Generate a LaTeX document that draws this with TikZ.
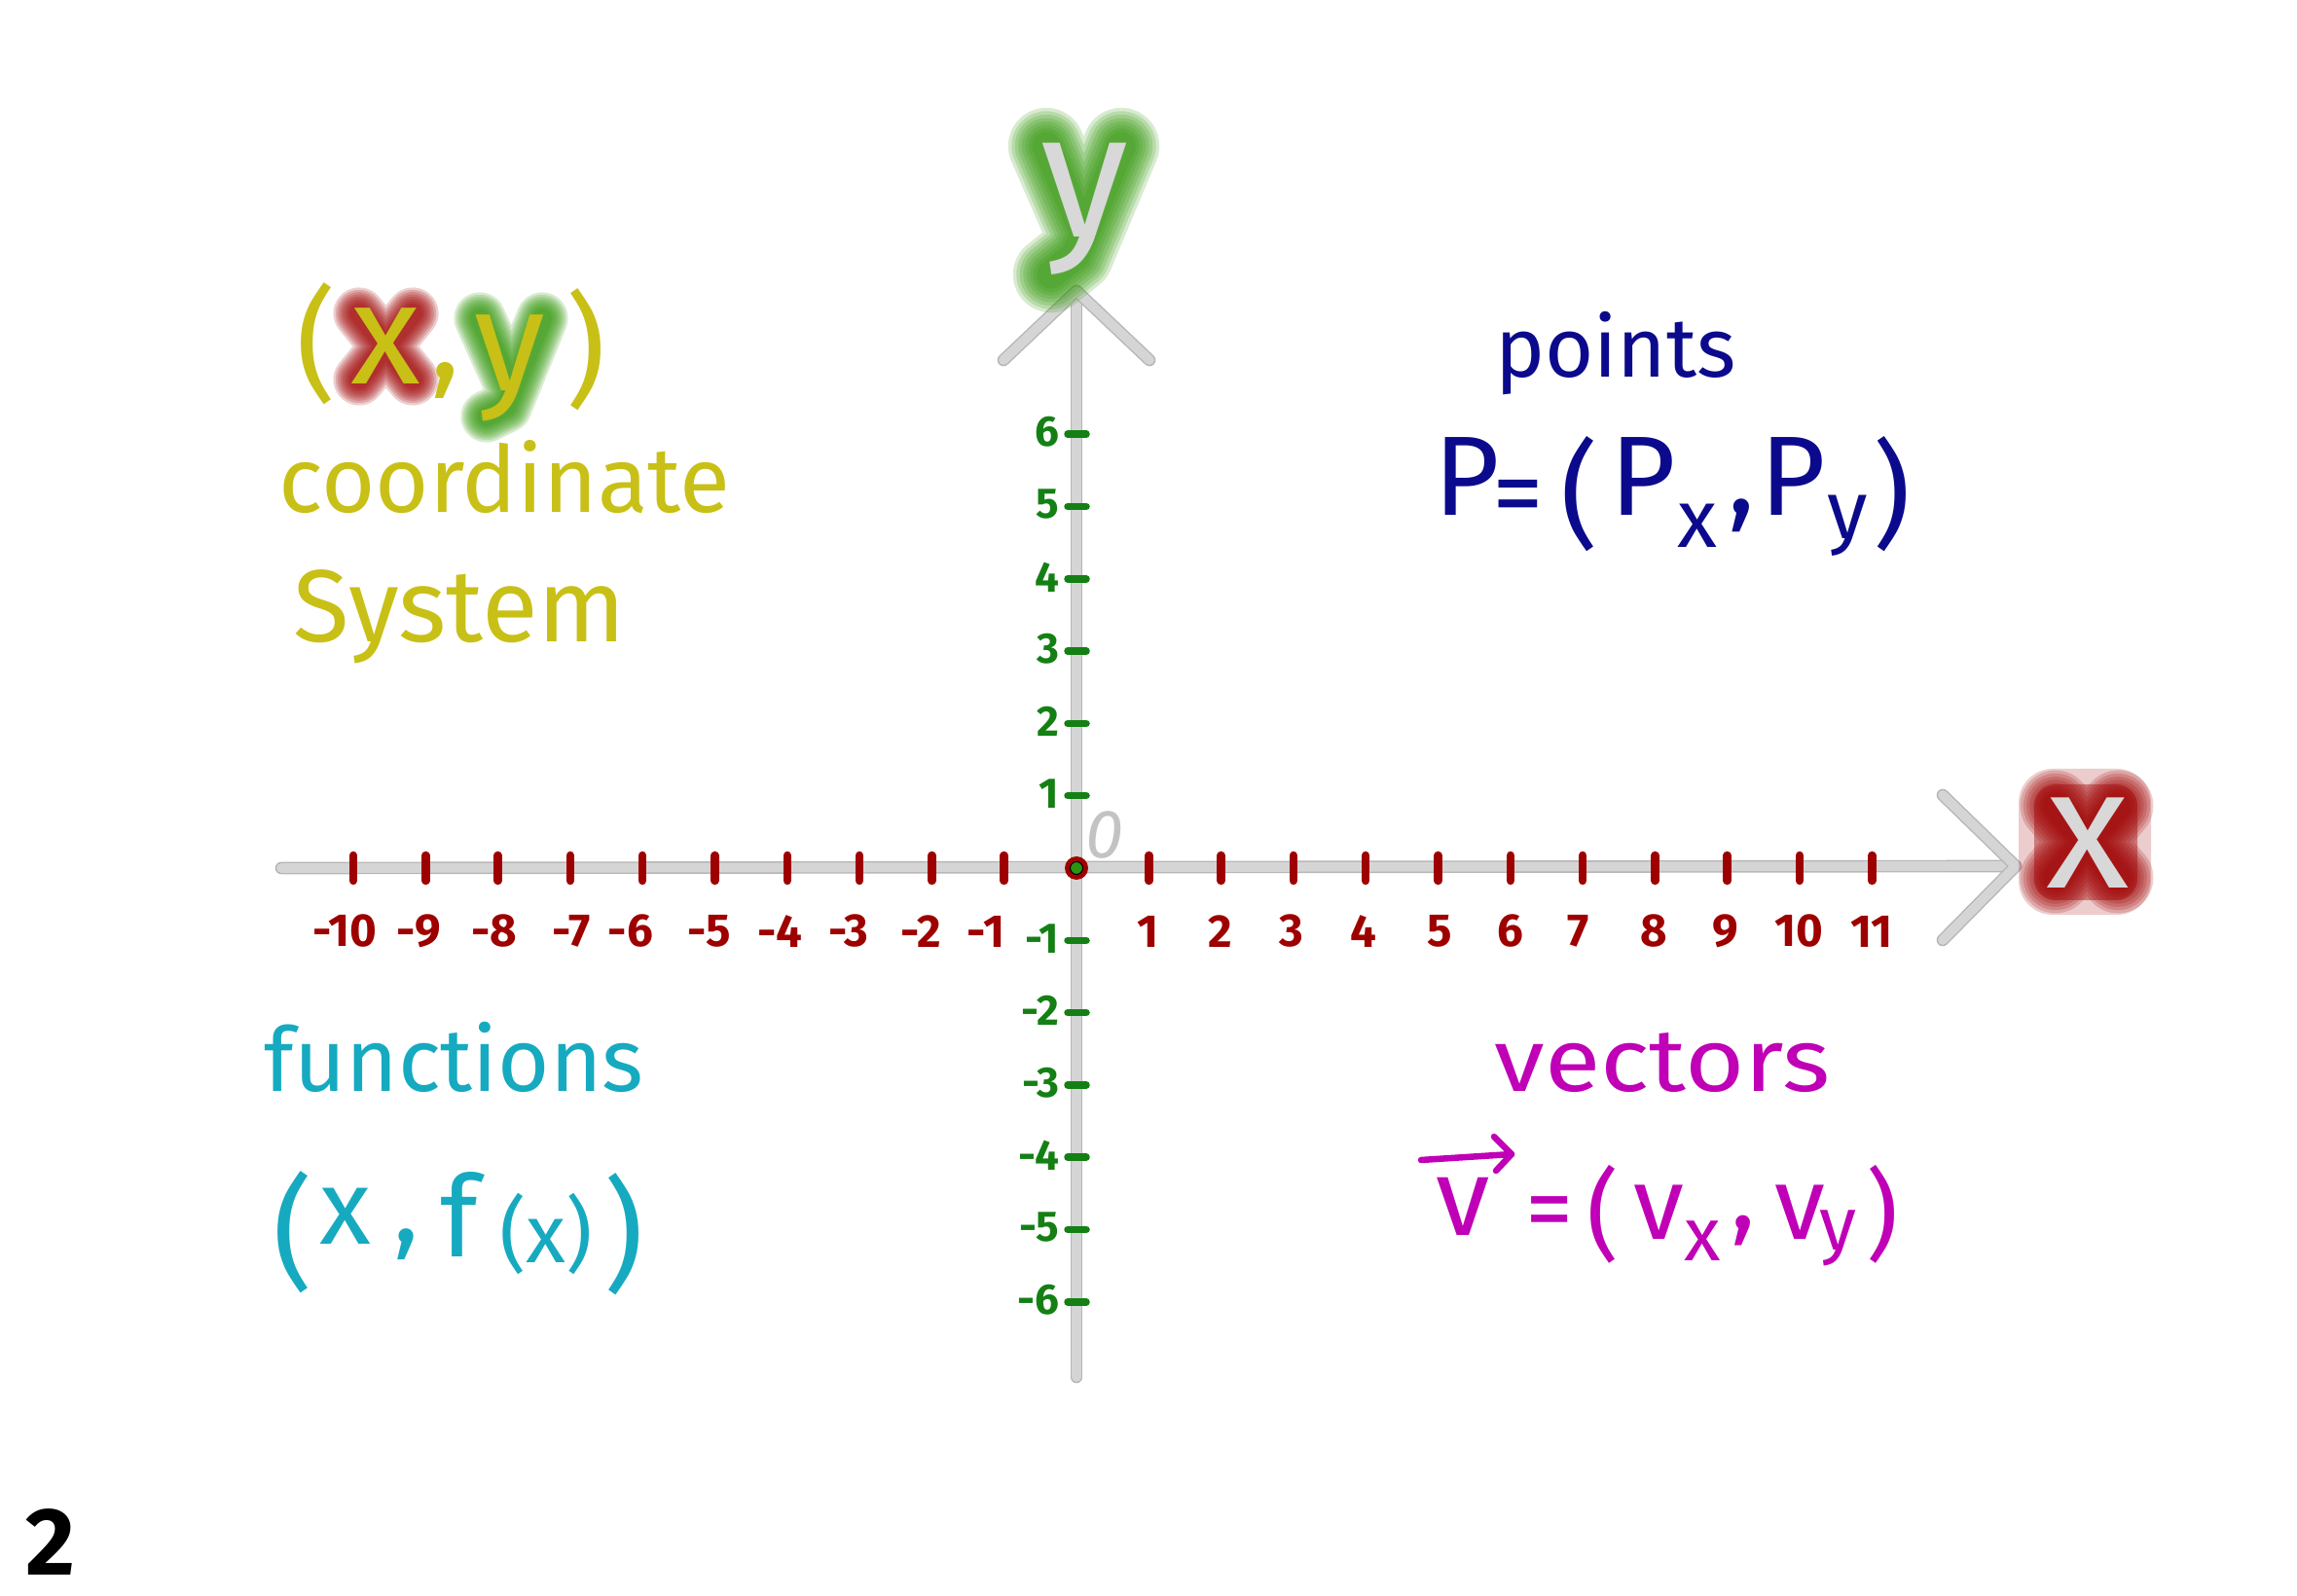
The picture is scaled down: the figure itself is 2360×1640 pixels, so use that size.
\documentclass[tikz,border=0pt]{standalone}
\usepackage{fontspec}
\setmainfont{Fira Sans}
\usetikzlibrary{calc}
\definecolor{axisgray}{RGB}{213,213,213}
\definecolor{axisedge}{RGB}{182,182,182}
\definecolor{tickred}{RGB}{158,0,0}
\definecolor{tickgreen}{RGB}{20,128,20}
\definecolor{ylw}{RGB}{200,192,22}
\definecolor{ptblue}{RGB}{12,10,140}
\definecolor{fnteal}{RGB}{22,170,192}
\definecolor{vecmag}{RGB}{192,0,182}
\definecolor{glowgreen}{RGB}{50,150,10}
\definecolor{glowred}{RGB}{160,0,0}
\definecolor{glyphgray}{RGB}{216,216,216}
\definecolor{zerogray}{RGB}{195,195,195}
% glow made of many layered wide strokes along a letter's skeleton
\newcommand{\glowpath}[3]{% #1 colour, #2 base width (cm), #3 path
  \foreach \w in {2.8,2.55,2.3,2.05,1.8,1.55,1.3,1.05}{%
    \draw[#1, opacity=0.19, line width=#2*\w*1cm, line cap=round, line join=round] #3;
  }%
}
\begin{document}
\begin{tikzpicture}[x=0.01cm,y=-0.01cm,
  axisline/.style={draw=axisedge, line width=0.4pt, double=axisgray, double distance=2.8pt, line cap=round, line join=round},
  xtickmark/.style={draw=tickred, line width=0.085cm, line cap=round},
  ytickmark/.style={draw=tickgreen, line width=0.075cm, line cap=round},
  xlab/.style={text=tickred, font=\fontsize{13.5}{14}\selectfont\bfseries, inner sep=0pt},
  ylab/.style={text=tickgreen, font=\fontsize{12.5}{13}\selectfont\bfseries, inner sep=0pt},
  glyph/.style={inner sep=0pt},
]
\fill[white] (0,0) rectangle (2360,1640);
\useasboundingbox (0,0) rectangle (2360,1640);

% ---------- axes ----------
\coordinate (O) at (1106,892);
\coordinate (xL) at (289,892);
\coordinate (xR) at (2071,890);
\coordinate (xa1) at (1996,817);
\coordinate (xa2) at (1996,966);
\coordinate (yB) at (1106,1415);
\coordinate (yT) at (1106,299);
\coordinate (ya1) at (1031,370);
\coordinate (ya2) at (1181,370);
\draw[axisline] (xL) -- (xR);
\draw[axisline] (xa1) -- (xR) -- (xa2);
\draw[axisline] (yB) -- (yT);
\draw[axisline] (ya1) -- (yT) -- (ya2);

% x ticks
\foreach \k in {-10,...,-1,1,2,...,11}{
  \draw[xtickmark] ({1106+74.3*\k},879) -- ({1106+74.3*\k},905);
}
% x tick labels
\foreach \k/\lx in {-10/354,-9/430,-8/508,-7/587,-6/648,-5/729,-4/801,-3/872,-2/946,-1/1013,
                    1/1180,2/1254,3/1327,4/1401,5/1479,6/1552,7/1622,8/1699,9/1773,10/1848,11/1923}{
  \node[xlab] (xl\k) at (\lx,957) {\k};
}
% y ticks and labels
\foreach \k in {6,5,4,3,2,1,-1,-2,-3,-4,-5,-6}{
  \draw[ytickmark] (1097,{892-74.3*\k}) -- (1116,{892-74.3*\k});
  \node[ylab, anchor=east] (yl\k) at (1089,{890-74.3*\k}) {\k};
}
% origin
\fill[tickred] (O) circle (12);
\filldraw[fill=tickgreen!85!lime, draw=black, line width=0.3pt] (O) circle (6.5);
\node[text=zerogray, font=\fontsize{20}{20}\selectfont\itshape, inner sep=0pt] (zero) at (1135,858) {0};

% ---------- axis letters ----------
\glowpath{glowgreen}{0.28}{(1075,150) -- (1112,235) (1152,150) -- (1105,262) -- (1080,282)}
\node[glyph, text=glyphgray, font=\fontsize{52}{52}\selectfont] (bigY) at (1114,215) {y};

\fill[glowred, opacity=0.2, rounded corners=0.35cm] (2074,790) rectangle (2210,940);
\fill[glowred, opacity=0.4, rounded corners=0.22cm] (2090,806) rectangle (2196,925);
\glowpath{glowred}{0.26}{(2112,828) -- (2176,902) (2176,828) -- (2112,902)}
\node[glyph, text=glyphgray, font=\fontsize{50}{50}\selectfont] (bigX) at (2145,866) {x};

% ---------- (x,y) coordinate system ----------
\node[glyph, text=ylw, font=\fontsize{36}{36}\selectfont] (cpL) at (325,353) {(};
\glowpath{glowred}{0.19}{(369,322) -- (424,390) (424,322) -- (369,390)}
\node[glyph, text=ylw, font=\fontsize{42}{42}\selectfont] (cx) at (396,356) {x};
\node[glyph, text=ylw, font=\fontsize{36}{36}\selectfont] (ccomma) at (458,391) {,};
\glowpath{glowgreen}{0.19}{(493,327) -- (525,398) (557,327) -- (520,418) -- (500,428)}
\node[glyph, text=ylw, font=\fontsize{42}{42}\selectfont] (cy) at (524,378) {y};
\node[glyph, text=ylw, font=\fontsize{36}{36}\selectfont] (cpR) at (602,359) {)};
\node[glyph, text=ylw, font=\fontsize{27}{27}\selectfont, anchor=base west] (coord) at (286,527) {coordinate};
\node[glyph, text=ylw, font=\fontsize{30}{30}\selectfont, anchor=base west] (sys) at (301,660) {System};

% ---------- points ----------
\node[glyph, text=ptblue, font=\fontsize{24.5}{24.5}\selectfont, anchor=base] (pts) at (1660,388) {points};
\node[glyph, text=ptblue, font=\fontsize{33}{33}\selectfont, anchor=base] (P1) at (1507,530) {P};
\node[glyph, text=ptblue, font=\fontsize{30}{30}\selectfont] (Peq) at (1560,518) {=};
\node[glyph, text=ptblue, font=\fontsize{34}{34}\selectfont] (PpL) at (1623,508) {(};
\node[glyph, text=ptblue, font=\fontsize{33}{33}\selectfont, anchor=base] (P2) at (1688,530) {P};
\node[glyph, text=ptblue, font=\fontsize{24}{24}\selectfont, anchor=west] (Psx) at ($(P2.east)+(0,50)$) {x};
\node[glyph, text=ptblue, font=\fontsize{33}{33}\selectfont] (Pcomma) at (1789,530) {,};
\node[glyph, text=ptblue, font=\fontsize{33}{33}\selectfont, anchor=base] (P3) at (1842,530) {P};
\node[glyph, text=ptblue, font=\fontsize{24}{24}\selectfont, anchor=west] (Psy) at ($(P3.east)+(0,50)$) {y};
\node[glyph, text=ptblue, font=\fontsize{34}{34}\selectfont, anchor=west] (PpR) at ($(Psy.east)+(4,-32)$) {)};

% ---------- functions ----------
\node[glyph, text=fnteal, font=\fontsize{26}{26}\selectfont, anchor=base west] (fun) at (271,1121) {functions};
\node[glyph, text=fnteal, font=\fontsize{36}{36}\selectfont] (fpL) at (301,1266) {(};
\node[glyph, text=fnteal, font=\fontsize{31}{31}\selectfont] (fx) at (355,1250) {x};
\node[glyph, text=fnteal, font=\fontsize{31}{31}\selectfont] (fcomma) at (418,1279) {,};
\node[glyph, text=fnteal, font=\fontsize{33}{33}\selectfont] (ff) at (472,1248) {f};
\node[glyph, text=fnteal, font=\fontsize{24}{24}\selectfont] (fin) at (561,1268) {(x)};
\node[glyph, text=fnteal, font=\fontsize{36}{36}\selectfont] (fpR) at (641,1268) {)};

% ---------- vectors ----------
\node[glyph, text=vecmag, font=\fontsize{26}{26}\selectfont, anchor=base west] (vecs) at (1535,1121) {\scalebox{1.15}[1]{vectors}};
\node[glyph, text=vecmag, font=\fontsize{32}{32}\selectfont] (vv) at (1503,1240) {v};
\coordinate (va1) at (1460,1192);
\coordinate (va2) at (1553,1186);
\coordinate (vh1) at (1535,1168);
\coordinate (vh2) at (1537,1203);
\draw[vecmag, line width=0.065cm, line cap=round, line join=round] (va1) -- (va2);
\draw[vecmag, line width=0.065cm, line cap=round, line join=round] (vh1) -- (va2) -- (vh2);
\node[glyph, text=vecmag, font=\fontsize{28}{28}\selectfont] (veq) at (1592,1253) {=};
\node[glyph, text=vecmag, font=\fontsize{29}{29}\selectfont] (vpL) at (1647,1248) {(};
\node[glyph, text=vecmag, font=\fontsize{30}{30}\selectfont] (vv1) at (1704,1246) {v};
\node[glyph, text=vecmag, font=\fontsize{22}{22}\selectfont] (vsx) at (1749,1275) {x};
\node[glyph, text=vecmag, font=\fontsize{30}{30}\selectfont] (vcomma) at (1791,1265) {,};
\node[glyph, text=vecmag, font=\fontsize{30}{30}\selectfont] (vv2) at (1849,1246) {v};
\node[glyph, text=vecmag, font=\fontsize{22}{22}\selectfont] (vsy) at (1889,1272) {y};
\node[glyph, text=vecmag, font=\fontsize{29}{29}\selectfont] (vpR) at (1934,1248) {)};

% ---------- page number ----------
\node[glyph, text=black, font=\fontsize{28}{28}\selectfont\bfseries] (pgnum) at (52,1585) {2};
\end{tikzpicture}
\end{document}
